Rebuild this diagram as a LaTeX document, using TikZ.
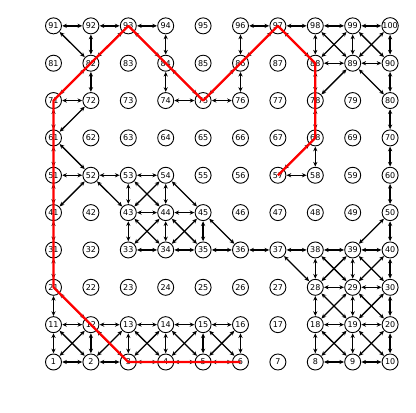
\documentclass[tikz,border=0pt]{standalone}
\usepackage{fontspec}
\setmainfont{DejaVu Sans}
\usetikzlibrary{arrows.meta}
\tikzset{
  gnode/.style={circle,draw=black,line width=0.9pt,fill=white,minimum size=16pt,inner sep=0pt,font=\fontsize{8}{9}\selectfont},
  gedge/.style={line width=1.3pt,{Stealth[length=4.6pt,width=4.2pt]}-{Stealth[length=4.6pt,width=4.2pt]},shorten <=0.3pt,shorten >=0.3pt},
  path/.style={draw=red,line width=2.3pt,line join=round}
}
\begin{document}
\begin{tikzpicture}[x=1pt,y=-1pt]
\useasboundingbox (0,0) rectangle (416,413);
\foreach \r in {0,...,9}{
  \foreach \c in {1,...,10}{
    \pgfmathtruncatemacro{\n}{\r*10+\c}
    \node[gnode] (n\n) at ({53.5+(\c-1)*37.4},{362-\r*37.35}) {\n};
  }
}
\foreach \a/\b in {
 91/92,92/93,93/94,96/97,97/98,98/99,99/100,
 91/82,92/82,93/84,94/84,84/74,82/72,72/71,72/61,74/75,75/76,86/96,86/76,82/93,71/82,84/75,75/86,86/97,97/88,
 98/88,99/89,100/90,98/89,99/88,99/90,100/89,88/89,89/90,89/78,89/80,90/80,80/70,70/60,60/50,50/40,50/39,88/78,78/68,68/58,58/57,68/57,
 61/71,51/61,41/51,31/41,21/31,11/21,12/21,3/12,
 61/52,51/52,52/41,52/53,52/43,53/54,53/43,53/44,54/43,54/44,54/45,43/44,44/45,43/33,43/34,44/33,44/34,44/35,45/34,45/35,45/36,33/34,34/35,35/36,36/37,37/38,38/39,39/40,37/28,
 38/28,38/29,39/28,39/29,39/30,40/29,40/30,28/29,29/30,28/18,28/19,29/18,29/19,29/20,30/19,30/20,18/19,19/20,18/8,18/9,19/8,19/9,19/10,20/9,20/10,8/9,9/10,
 1/2,2/3,3/4,4/5,5/6,11/12,12/13,13/14,14/15,15/16,1/11,2/12,3/13,4/14,5/15,6/16,1/12,11/2,2/13,12/3,3/14,13/4,4/15,14/5,5/16,15/6}{
  \draw[gedge] (n\a) -- (n\b);
}
\draw[path] (n6.center) -- (n3.center) -- (n21.center) -- (n71.center) -- (n93.center) -- (n75.center) -- (n97.center) -- (n88.center) -- (n68.center) -- (n57.center);
\end{tikzpicture}
\end{document}
